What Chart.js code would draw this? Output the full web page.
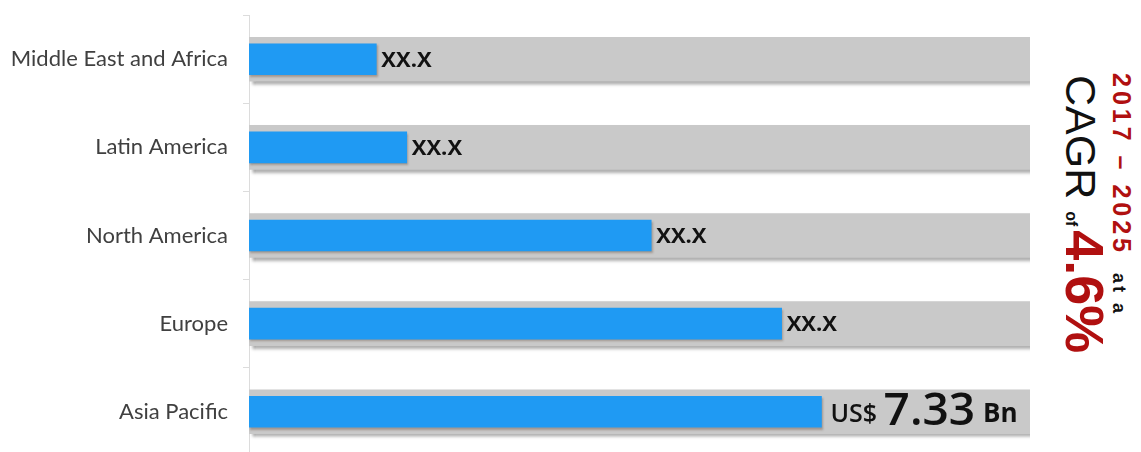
<!DOCTYPE html>
<html>
<head>
<meta charset="utf-8">
<script src="https://cdn.jsdelivr.net/npm/chart.js@4"></script>
<style>
  html, body { margin: 0; padding: 0; background: #fff; overflow: hidden; }
  body { width: 1141px; height: 452px; position: relative; }
  #wrap { position: absolute; left: 0; top: -13px; width: 1040px; height: 497px; }
  .rot { position: absolute; transform-origin: top left; transform: rotate(90deg); white-space: nowrap; font-family: "Liberation Sans", Arial, sans-serif; }
  #period { left: 1134px; top: 73px; line-height: 25px; font-size: 25px; font-weight: bold; color: #b01010; letter-spacing: 4px; }
  #period small { font-size: 18px; color: #111; font-weight: bold; letter-spacing: 3px; margin-left: 6px; }
  #cagr { left: 1112px; top: 75px; line-height: 54px; font-size: 43px; color: #111; }
  #cagr small { font-size: 16px; font-weight: bold; margin-right: 4px; }
  #cagr b { font-size: 54px; color: #b01010; }
</style>
</head>
<body>
<div id="wrap"><canvas id="grafico" width="1040" height="497"></canvas></div>
<div class="rot" id="period">2017 – 2025 <small>at a</small></div>
<div class="rot" id="cagr">CAGR <small>of</small><b>4.6%</b></div>
<script>
const regiones = ['Middle East and Africa', 'Latin America', 'North America', 'Europe', 'Asia Pacific'];
const valores = [1.63, 2.02, 5.15, 6.82, 7.33];
const pista = [10, 10, 10, 10, 10];
const etiquetas = ['XX.X', 'XX.X', 'XX.X', 'XX.X', '7.33'];
const prefijo = ['', '', '', '', 'US$'];
const sufijo = ['', '', '', '', 'Bn'];

// sombra gris abajo a la derecha, como en la imagen
const sombras = {
    id: 'sombras',
    beforeDatasetDraw(chart, args) {
        const ctx = chart.ctx;
        ctx.save();
        if (args.index === 1) {
            ctx.shadowColor = 'rgba(0,0,0,0.35)'; ctx.shadowOffsetX = 3; ctx.shadowOffsetY = 3; ctx.shadowBlur = 3;
        } else {
            ctx.shadowColor = 'rgba(90,60,40,0.35)'; ctx.shadowOffsetX = 1; ctx.shadowOffsetY = 2; ctx.shadowBlur = 2;
        }
    },
    afterDatasetDraw(chart) { chart.ctx.restore(); }
};

const rotulos = {
    id: 'rotulos',
    afterDatasetsDraw(chart) {
        const ctx = chart.ctx;
        const meta = chart.getDatasetMeta(0);
        ctx.save();
        ctx.fillStyle = '#111';
        ctx.textBaseline = 'middle';
        meta.data.forEach((bar, i) => {
            let x = bar.x + 5;
            const y = bar.y + 1;
            if (prefijo[i]) {
                ctx.font = '600 25px "Open Sans"';
                ctx.fillText(prefijo[i], x + 4, y + 2);
                x += ctx.measureText(prefijo[i] + ' ').width + 4;
                ctx.font = '600 46px "Open Sans"';
                ctx.fillText(etiquetas[i], x, y - 1);
                x += ctx.measureText(etiquetas[i] + ' ').width - 4;
                ctx.font = 'bold 26px "Open Sans"';
                ctx.fillText(sufijo[i], x, y + 2);
            } else {
                ctx.font = 'bold 22px "Open Sans"';
                ctx.fillText(etiquetas[i], x, y);
            }
        });
        ctx.restore();
    }
};

new Chart(document.getElementById('grafico').getContext('2d'), {
    type: 'bar',
    data: {
        labels: regiones,
        datasets: [
            { data: valores, backgroundColor: '#1f9af3', barThickness: 31, grouped: false },
            { data: pista, backgroundColor: '#c9c9c9', barThickness: 44, grouped: false }
        ]
    },
    options: {
        indexAxis: 'y',
        responsive: false,
        animation: false,
        layout: { padding: { top: 0, right: 10, bottom: 0, left: 0 } },
        plugins: { legend: { display: false }, tooltip: { enabled: false } },
        scales: {
            x: { display: false, min: 0, max: 10 },
            y: {
                afterFit: s => { s.width = 249; },
                ticks: { color: '#404040', font: { family: 'Lato', size: 22 }, padding: 15 },
                grid: { drawOnChartArea: false, tickLength: 6, color: '#dcdcdc' },
                border: { color: '#dcdcdc' }
            }
        }
    },
    plugins: [sombras, rotulos]
});
</script>
</body>
</html>
